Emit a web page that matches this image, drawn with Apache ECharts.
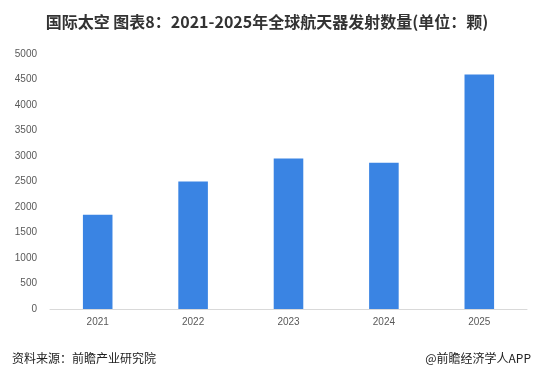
<!DOCTYPE html>
<html>
<head>
<meta charset="utf-8">
<script src="https://cdn.jsdelivr.net/npm/echarts@6/dist/echarts.min.js"></script>
<style>
html,body{margin:0;padding:0;background:#fff;}
#c{width:539px;height:376px;}
</style>
</head>
<body>
<div id="c"></div>
<script>
const categories = ['2021', '2022', '2023', '2024', '2025'];
const values = [1850, 2500, 2950, 2870, 4600];
const yTicks = [0, 500, 1000, 1500, 2000, 2500, 3000, 3500, 4000, 4500, 5000];

const chart = echarts.init(document.getElementById('c'));
chart.setOption({
  backgroundColor: '#ffffff',
  animation: false,
  title: [
    {
      text: '国际太空 图表8：2021-2025年全球航天器发射数量(单位：颗)',
      left: 262, top: 9, textAlign: 'center',
      textStyle: { fontSize: 16, fontWeight: 'bold', color: '#333333', fontFamily: 'Noto Sans CJK SC' }
    },
    {
      text: '资料来源：前瞻产业研究院',
      left: 7, top: 347,
      textStyle: { fontSize: 12, fontWeight: 'normal', color: '#222222', fontFamily: 'Noto Sans CJK SC' }
    },
    {
      text: '@前瞻经济学人APP',
      right: 3, top: 347,
      textStyle: { fontSize: 12, fontWeight: 'normal', color: '#222222', fontFamily: 'Noto Sans CJK SC' }
    }
  ],
  grid: { left: 50, right: 12, top: 54, bottom: 67 },
  xAxis: {
    type: 'category',
    data: categories,
    axisLine: { lineStyle: { color: '#d9d9d9' } },
    axisTick: { show: false },
    axisLabel: { color: '#595959', fontSize: 10, margin: 8, fontFamily: 'Liberation Sans' }
  },
  yAxis: {
    type: 'value',
    min: yTicks[0], max: yTicks[yTicks.length - 1], interval: yTicks[1] - yTicks[0],
    axisLine: { show: false },
    axisTick: { show: false },
    splitLine: { show: false },
    axisLabel: { color: '#595959', fontSize: 10, margin: 13, fontFamily: 'Liberation Sans', formatter: function (v) { return String(v); } }
  },
  series: [{
    type: 'bar',
    data: values,
    barWidth: '31%',
    itemStyle: { color: '#3a84e3' }
  }]
});
</script>
</body>
</html>
